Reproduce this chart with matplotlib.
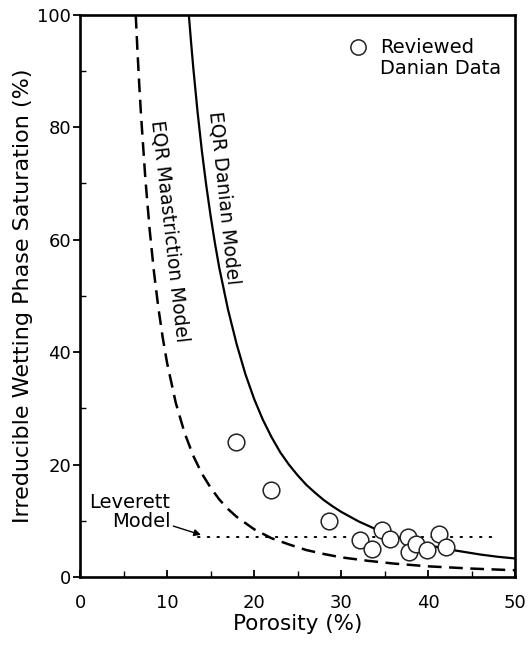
import numpy as np
import matplotlib
matplotlib.use("Agg")
from matplotlib import pyplot as plt
from matplotlib.ticker import MultipleLocator

# EQR Danian model (solid)
danian_phi = [12.5, 12.75, 13, 13.5, 14, 14.5, 15, 15.5, 16, 17, 18, 19, 20, 21, 22, 23,
              24, 25, 26, 27, 28, 29, 30, 32, 34, 36, 38, 40, 42, 44, 46, 48, 50]
danian_swi = [100, 95.3, 90.8, 82.8, 75.8, 69.7, 64.3, 59.4, 55.0, 47.6, 41.4, 36.1, 31.7,
              28.0, 24.9, 22.2, 20.0, 18.1, 16.4, 15.0, 13.7, 12.6, 11.6, 9.9, 8.5, 7.3,
              6.4, 5.7, 5.0, 4.5, 4.0, 3.6, 3.3]

# EQR Maastrichtian model (dashed)
maas_phi = [6.4, 6.6, 6.8, 7, 7.5, 8, 8.5, 9, 9.5, 10, 11, 12, 13, 14, 15, 16, 17, 18,
            20, 22, 24, 26, 28, 30, 33, 36, 40, 45, 50]
maas_swi = [100, 93.6, 87.7, 82.4, 71.0, 61.8, 54.2, 47.9, 42.6, 38.1, 31.0, 25.7, 21.6,
            18.4, 15.9, 13.8, 12.1, 10.7, 8.5, 6.9, 5.8, 4.8, 4.1, 3.5, 2.9, 2.4, 1.9,
            1.5, 1.2]

# Leverett model (dotted, constant)
leverett_phi = [13.6, 47.6]
leverett_swi = [7.2, 7.2]

# reviewed Danian data
data_phi = [17.9, 21.9, 28.6, 32.2, 33.5, 34.7, 35.6, 37.7, 37.8, 38.6, 39.9, 41.3, 42.0]
data_swi = [24.0, 15.5, 10.0, 6.6, 5.0, 8.4, 6.7, 7.2, 4.4, 5.8, 4.8, 7.7, 5.4]

x_ticks = [0, 10, 20, 30, 40, 50]
y_ticks = [0, 20, 40, 60, 80, 100]

fig = plt.figure(figsize=(5.3, 6.45), dpi=100)
ax = fig.add_axes([0.151, 0.1054, 0.821, 0.8716])

ax.plot(danian_phi, danian_swi, color='black', lw=1.6)
ax.plot(maas_phi, maas_swi, color='black', lw=1.8, dashes=(5.5, 3))
ax.plot(leverett_phi, leverett_swi, color='black', lw=1.4, dashes=(0.8, 4.2),
        dash_capstyle='round')
pts, = ax.plot(data_phi, data_swi, 'o', ms=12, mfc='white', mec='#222222',
               mew=1.1, ls='none', label='Reviewed')

ax.text(16.6, 67.5, 'EQR Danian Model', rotation=-84, ha='center', va='center',
        rotation_mode='anchor', fontsize=13.5)
ax.text(10.3, 61.6, 'EQR Maastriction Model', rotation=-83.5, ha='center', va='center',
        rotation_mode='anchor', fontsize=13.5)

ax.annotate('Leverett\nModel', xy=(13.9, 7.5), xytext=(10.4, 11.5),
            ha='right', va='center', multialignment='right', fontsize=14,
            linespacing=1.0,
            arrowprops=dict(arrowstyle='-|>', color='black', lw=1.0,
                            mutation_scale=10, shrinkA=0, shrinkB=0))

leg = ax.legend(handles=[pts], loc='upper left', bbox_to_anchor=(0.62, 0.958),
                frameon=False, fontsize=14, handlelength=0.8, handletextpad=0.75,
                borderaxespad=0, borderpad=0)
leg.legend_handles[0].set_markersize(11)

ax.set_xlim(0, 50)
ax.set_ylim(0, 100)
ax.set_xticks(x_ticks)
ax.set_yticks(y_ticks)
ax.xaxis.set_minor_locator(MultipleLocator(5))
ax.yaxis.set_minor_locator(MultipleLocator(10))
ax.tick_params(axis='both', which='major', labelsize=13, width=1.3, length=5)
ax.tick_params(axis='x', which='both', direction='in', pad=12)
ax.tick_params(axis='y', which='major', direction='out', pad=1.5)
ax.tick_params(axis='y', which='minor', direction='in', length=4, width=1.0)
ax.tick_params(axis='x', which='minor', length=4, width=1.0)

for sp in ax.spines.values():
    sp.set_linewidth(1.9)

ax.set_xlabel('Porosity (%)', fontsize=15.5, labelpad=2)
ax.set_ylabel('Irreducible Wetting Phase Saturation (%)', fontsize=16, labelpad=3)

# second line of the legend label, under "Reviewed"
fig.canvas.draw()
txt = leg.get_texts()[0]
bb = txt.get_window_extent()
x0, y0 = fig.transFigure.inverted().transform((bb.x0, bb.y0))
fig.text(x0, y0 - 0.003, 'Danian Data', ha='left', va='top', fontsize=14)

fig.savefig('out.png', dpi=100)
